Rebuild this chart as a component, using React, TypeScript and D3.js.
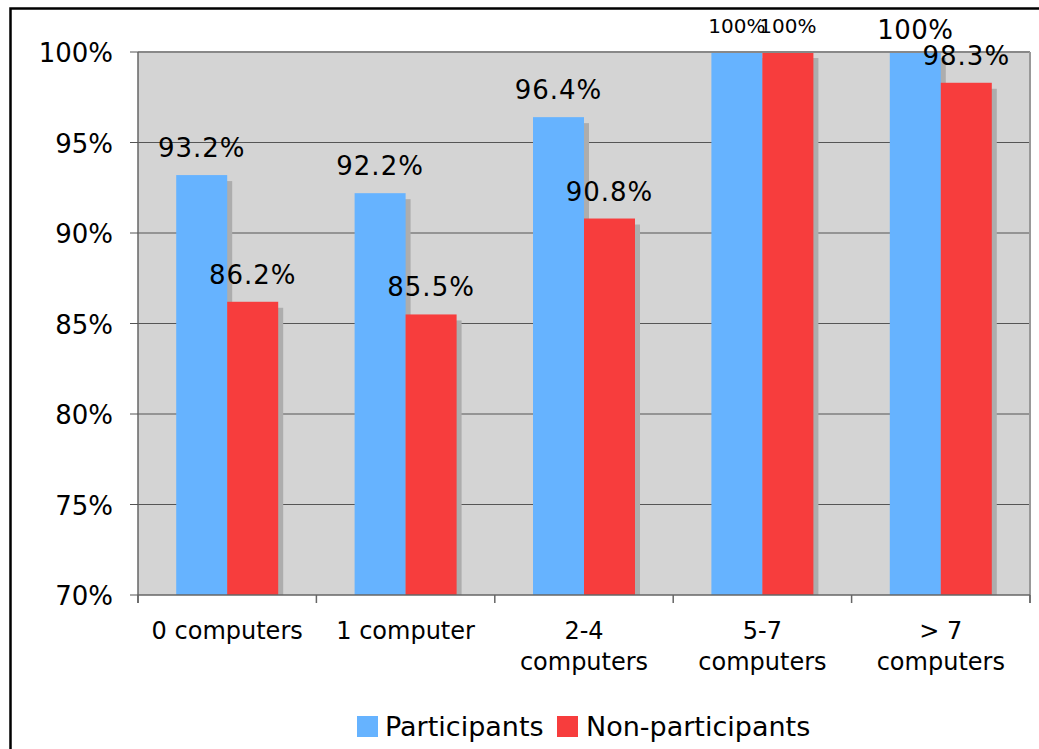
import React from "react";
import * as d3 from "d3";

const categories: string[][] = [
  ["0 computers"],
  ["1 computer"],
  ["2-4", "computers"],
  ["5-7", "computers"],
  ["> 7", "computers"],
];
const participants = [93.2, 92.2, 96.4, 100, 100];
const nonParticipants = [86.2, 85.5, 90.8, 100, 98.3];
const participantLabels = ["93.2%", "92.2%", "96.4%", "100%", "100%"];
const nonParticipantLabels = ["86.2%", "85.5%", "90.8%", "100%", "98.3%"];
const yTicks = [70, 75, 80, 85, 90, 95, 100];
const seriesNames = ["Participants", "Non-participants"];

const W = 1039;
const H = 749;
const BLUE = "#66b3ff";
const RED = "#f73d3d";
const FONT = "'DejaVu Sans', Verdana, sans-serif";

// label styling overrides (key: "series-index")
const labelStyle: Record<string, { size: number; dy: number; ls: number }> = {
  "0-3": { size: 20, dy: -19, ls: 0 },
  "1-3": { size: 20, dy: -19, ls: 0 },
  "0-4": { size: 26, dy: -13, ls: 0.5 },
};

export default function App() {
  const left = 138;
  const right = 1030;
  const top = 52;
  const bottom = 595;

  const x = d3.scaleBand<number>().domain(d3.range(categories.length)).range([left, right]);
  const y = d3.scaleLinear().domain([70, 100]).range([bottom, top]);
  const barW = 51;
  const groupOff = (x.bandwidth() - 2 * barW) / 2;
  const series = [participants, nonParticipants];
  const labels = [participantLabels, nonParticipantLabels];
  const colors = [BLUE, RED];

  return (
    <svg
      width={W}
      height={H}
      style={{ position: "absolute", left: 0, top: 0, background: "#fff" }}
      fontFamily={FONT}
    >
      {/* outer frame */}
      <rect x={10.5} y={8.5} width={W + 20} height={H + 20} fill="none" stroke="#000" strokeWidth={2.5} />

      {/* plot background */}
      <rect x={left} y={top} width={right - left} height={bottom - top} fill="#d4d4d4" />

      {/* gridlines */}
      {yTicks.filter((t) => t !== 70 && t !== 100).map((t) => (
        <line key={t} x1={left} x2={right} y1={y(t)} y2={y(t)} stroke="#555" strokeWidth={1} />
      ))}

      {/* shadows */}
      {series.map((vals, s) =>
        vals.map((v, i) => {
          const bx = (x(i) as number) + groupOff + s * barW;
          return (
            <rect
              key={`sh-${s}-${i}`}
              x={bx + 5}
              y={y(v) + 6}
              width={barW}
              height={bottom - y(v) - 6}
              fill="#adadad"
            />
          );
        })
      )}

      {/* bars */}
      {series.map((vals, s) =>
        vals.map((v, i) => {
          const bx = (x(i) as number) + groupOff + s * barW;
          return (
            <rect
              key={`b-${s}-${i}`}
              x={bx}
              y={y(v)}
              width={barW}
              height={bottom - y(v)}
              fill={colors[s]}
            />
          );
        })
      )}

      {/* plot frame */}
      <line x1={left} x2={right} y1={top} y2={top} stroke="#888" strokeWidth={2} />
      <line x1={right} x2={right} y1={top} y2={bottom + 8} stroke="#999" strokeWidth={2} />
      <line x1={left} x2={left} y1={top} y2={bottom + 8} stroke="#666" strokeWidth={1.5} />
      <line x1={left} x2={right} y1={bottom} y2={bottom} stroke="#666" strokeWidth={1.5} />

      {/* y ticks */}
      {yTicks.map((t) => (
        <g key={`yt-${t}`}>
          <line x1={left - 8} x2={left} y1={y(t)} y2={y(t)} stroke="#555" strokeWidth={1} />
          <text x={113} y={y(t) + 10} textAnchor="end" fontSize={26} fill="#000">
            {`${t}%`}
          </text>
        </g>
      ))}

      {/* x ticks */}
      {d3.range(categories.length + 1).map((i) => {
        const xx = i < categories.length ? (x(i) as number) : right;
        return <line key={`xt-${i}`} x1={xx} x2={xx} y1={bottom} y2={bottom + 8} stroke="#666" strokeWidth={1.5} />;
      })}

      {/* x labels */}
      {categories.map((lines, i) => (
        <text key={`xl-${i}`} x={(x(i) as number) + x.bandwidth() / 2} textAnchor="middle" fontSize={24} fill="#000">
          {lines.map((ln, k) => (
            <tspan key={k} x={(x(i) as number) + x.bandwidth() / 2} y={639 + k * 31}>
              {ln}
            </tspan>
          ))}
        </text>
      ))}

      {/* value labels */}
      {series.map((vals, s) =>
        vals.map((v, i) => {
          const cx = (x(i) as number) + groupOff + s * barW + barW / 2;
          const st = labelStyle[`${s}-${i}`] || { size: 26, dy: -18, ls: 1 };
          return (
            <text
              key={`vl-${s}-${i}`}
              x={cx}
              y={y(v) + st.dy}
              textAnchor="middle"
              fontSize={st.size}
              letterSpacing={st.ls}
              fill="#000"
            >
              {labels[s][i]}
            </text>
          );
        })
      )}

      {/* legend */}
      <rect x={357} y={716} width={21} height={21} fill={BLUE} />
      <text x={385} y={736} fontSize={27} fill="#000">{seriesNames[0]}</text>
      <rect x={557} y={716} width={21} height={21} fill={RED} />
      <text x={586} y={736} fontSize={27} fill="#000">{seriesNames[1]}</text>
    </svg>
  );
}
